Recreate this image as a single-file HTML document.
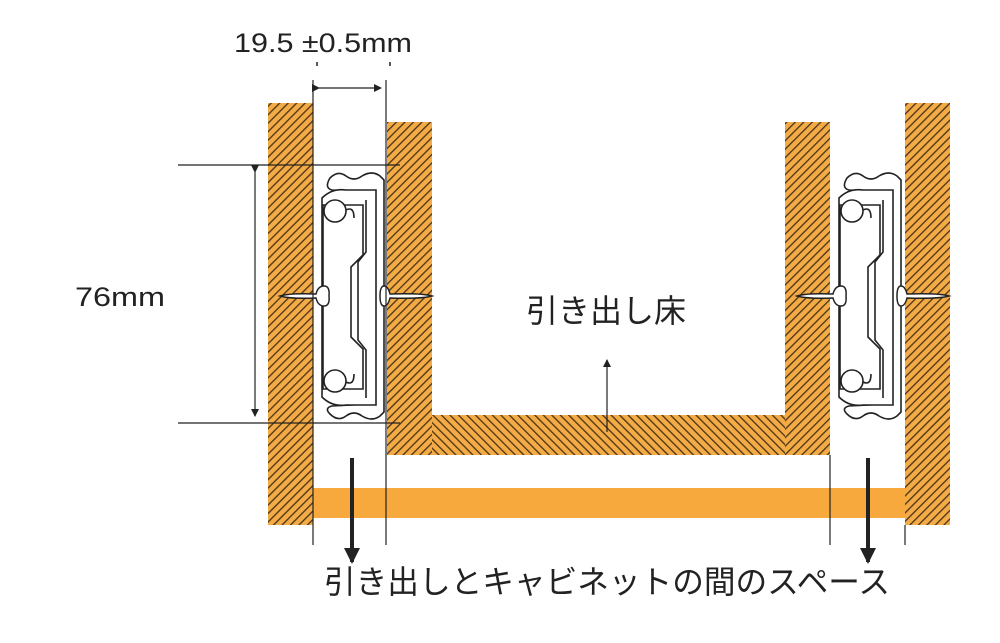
<!DOCTYPE html>
<html><head><meta charset="utf-8"><style>
html,body{margin:0;padding:0;background:#fff;}
svg{display:block}
text{font-family:"Liberation Sans","Noto Sans CJK JP",sans-serif;fill:#222}
</style></head><body>
<svg width="1000" height="643" viewBox="0 0 1000 643" xmlns="http://www.w3.org/2000/svg">
<defs>
<pattern id="h1" width="6" height="6" patternUnits="userSpaceOnUse" patternTransform="rotate(45)">
<rect width="6" height="6" fill="#f3ab45"/><rect x="0" y="0" width="1.3" height="6" fill="#4a3218"/>
</pattern>
<pattern id="h2" width="6" height="6" patternUnits="userSpaceOnUse" patternTransform="rotate(-45)">
<rect width="6" height="6" fill="#f3ab45"/><rect x="0" y="0" width="1.3" height="6" fill="#4a3218"/>
</pattern>
<marker id="ar" markerWidth="8" markerHeight="8" refX="7" refY="4" orient="auto" markerUnits="userSpaceOnUse"><path d="M0,0 L8,4 L0,8 z" fill="#222"/></marker>
<marker id="ab" markerWidth="16" markerHeight="16" refX="14" refY="8" orient="auto" markerUnits="userSpaceOnUse"><path d="M0,0 L16,8 L0,16 z" fill="#222"/></marker>
<g id="slide" fill="#fff" stroke="#222" stroke-width="1.6">
<path d="M330,178 q8,-8 16,-2 q8,6 16,0 q10,-6 18,0 l4,4 v232 l-4,4 q-8,6 -18,0 q-8,-6 -16,0 q-8,6 -16,-2 q-6,-6 2,-8 l38,-2 v-212 l-38,-2 q-8,-2 -2,-12z"/>
<path d="M322,198 q10,-10 24,-8 l30,0 v215 l-30,0 q-14,2 -24,-8 z"/>
<path d="M323,205 h40 v50 l-12,12 v70 l12,12 v40 h-40 z"/>
<path d="M366,200 v52 l-8,10 v78 l8,10 v48"/>
<circle cx="335" cy="211" r="11"/>
<circle cx="335" cy="381" r="11"/>
<path d="M346,210 q8,-4 8,8"/>
<path d="M346,382 q8,4 8,-8"/>
</g>
<g id="screws" fill="#fff" stroke="#222" stroke-width="1.5">
<path d="M280,296 q10,-3 36,-2 q2,-8 8,-8 q6,0 5,10 q1,10 -5,10 q-6,0 -8,-8 q-26,1 -36,-2z"/>
<path d="M432,296 q-10,-3 -42,-2 q-2,-8 -6,-8 q-4,0 -4,10 q0,10 4,10 q4,0 6,-8 q32,1 42,-2z"/>
</g>
</defs>

<rect x="268" y="103" width="45" height="422" fill="url(#h1)"/>
<rect x="905" y="103" width="45" height="422" fill="url(#h1)"/>
<rect x="387" y="122" width="45" height="333" fill="url(#h1)"/>
<rect x="785" y="122" width="45" height="333" fill="url(#h1)"/>
<rect x="432" y="415" width="353" height="40" fill="url(#h2)"/>
<rect x="313" y="488" width="592" height="30" fill="#f7a93e"/>

<use href="#slide"/>
<use href="#screws"/>
<use href="#slide" transform="translate(517,0)"/>
<use href="#screws" transform="translate(517,0)"/>

<g stroke="#222" stroke-width="1.2" fill="none">
<line x1="313" y1="80" x2="313" y2="545"/>
<line x1="386" y1="80" x2="386" y2="545"/>
<line x1="830" y1="455" x2="830" y2="545"/>
<line x1="905" y1="525" x2="905" y2="545"/>
<line x1="178" y1="165" x2="400" y2="165"/>
<line x1="178" y1="423" x2="400" y2="423"/>
<line x1="319" y1="88" x2="381" y2="88" marker-start="url(#ar)" marker-end="url(#ar)"/>
<line x1="255" y1="172" x2="255" y2="416" marker-start="url(#ar)" marker-end="url(#ar)"/>
<line x1="607" y1="432" x2="607" y2="360" marker-end="url(#ar)"/>
</g>
<g stroke="#222" stroke-width="1.5">
<line x1="317" y1="62" x2="317" y2="66"/><line x1="390" y1="62" x2="390" y2="66"/>
</g>
<g stroke="#222" stroke-width="4" fill="none">
<line x1="352" y1="458" x2="352" y2="562" marker-end="url(#ab)"/>
<line x1="868" y1="458" x2="868" y2="562" marker-end="url(#ab)"/>
</g>

<text x="234" y="52" font-size="27" textLength="178" lengthAdjust="spacingAndGlyphs">19.5 ±0.5mm</text>
<text x="75" y="306" font-size="27" textLength="90" lengthAdjust="spacingAndGlyphs">76mm</text>
<text x="526" y="322" font-size="32">引き出し床</text>
<text x="324" y="593" font-size="32" textLength="566" lengthAdjust="spacingAndGlyphs">引き出しとキャビネットの間のスペース</text>
</svg>
</body></html>
